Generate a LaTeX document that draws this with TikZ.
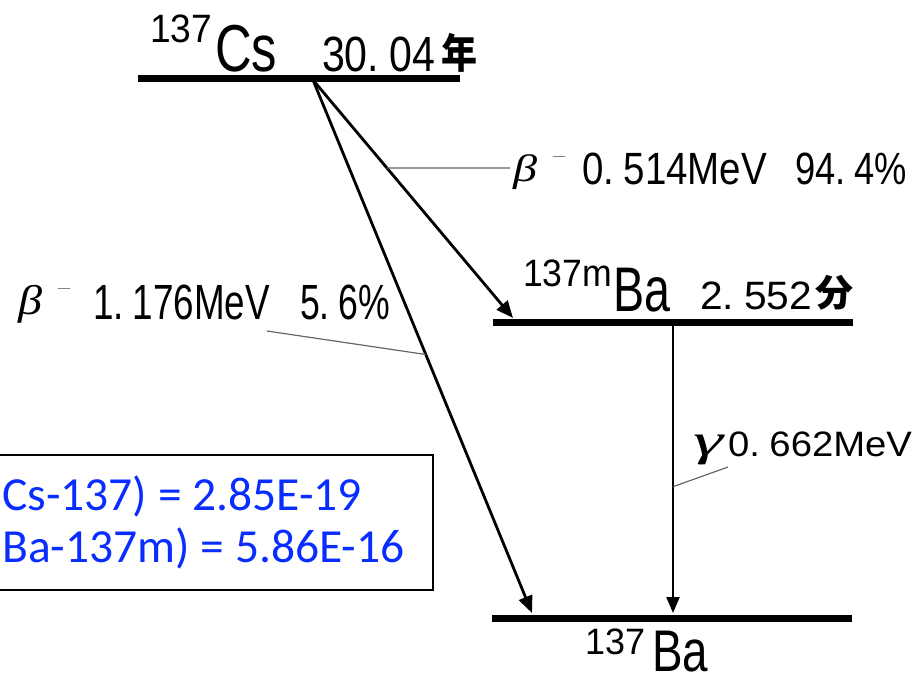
\documentclass[tikz,border=0pt]{standalone}
\usepackage{fontspec}
\usepackage{graphicx}
\usetikzlibrary{arrows.meta,calc}
\newfontfamily\gothic{Liberation Sans}
\newfontfamily\grk{Liberation Serif}
\newfontfamily\cjk{Noto Sans CJK JP}
\newfontfamily\calib{Carlito}
\definecolor{txtblue}{RGB}{10,45,255}
\newcommand\fitt[3]{\resizebox*{#1pt}{#2pt}{\gothic #3}}
\newcommand\fitg[3]{\resizebox*{#1pt}{#2pt}{\grk\itshape #3}}
\newcommand\fitc[3]{\resizebox*{#1pt}{#2pt}{\cjk\bfseries #3}}
\tikzset{
  lbl/.style={anchor=south west, inner sep=0pt, outer sep=0pt},
  level/.style={line width=7pt},
  decay/.style={line width=2.8pt, -{Triangle[length=17pt,width=14pt]}},
  gdecay/.style={line width=2.2pt, -{Triangle[length=16pt,width=13pt]}},
  leader/.style={line width=1.2pt, draw=black!60},
  box/.style={line width=1.5pt, draw=black},
  boxtxt/.style={anchor=base west, inner sep=0pt, text=txtblue, font=\calib\fontsize{47.5}{50}\selectfont},
}
\begin{document}
\begin{tikzpicture}[x=1pt,y=-1pt]
\useasboundingbox (0,0) rectangle (917,683);
% levels
\coordinate (csL) at (138,78);  \coordinate (csR) at (460,78);
\coordinate (bmL) at (493,322); \coordinate (bmR) at (853,322);
\coordinate (baL) at (492,618); \coordinate (baR) at (852,618);
\draw[level] (csL) -- (csR);
\draw[level] (bmL) -- (bmR);
\draw[level] (baL) -- (baR);
% level labels
\node[lbl] (csA) at (150,43) {\fitt{62}{28}{137}};
\node[lbl] (csE) at (215,72) {\fitt{62}{47}{Cs}};
\node[lbl] (csT) at (322,72) {\fitt{113}{35}{30.\kern.25em04}};
\node[lbl] (csU) at (441,72) {\fitc{36}{39}{年}};
\node[lbl] (bmA) at (523,287) {\fitt{89}{27}{137m}};
\node[lbl] (bmE) at (613,312) {\fitt{57}{44}{Ba}};
\node[lbl] (bmT) at (700,310) {\fitt{112}{28}{2.\kern.25em552}};
\node[lbl] (bmU) at (815,310) {\fitc{38}{35}{分}};
\node[lbl] (baA) at (585,655) {\fitt{60}{26}{137}};
\node[lbl] (baE) at (652,672) {\fitt{56}{41}{Ba}};
% decay points
\coordinate (src) at (313,80);
\coordinate (bmTip) at (513,318);
\coordinate (baTip1) at (532,613);
\coordinate (gTop) at (673,326);
\coordinate (baTip2) at (673,613);
\draw[decay] (src) -- (bmTip);
\draw[decay] (src) -- (baTip1);
\draw[gdecay] (gTop) -- (baTip2);
% beta1 label
\node[lbl] (b1g) at (513,190) {\fitg{24}{35}{β}};
\node[inner sep=0pt] (b1m) at (559,158) {\fitt{15}{2.5}{−}};
\node[lbl] (b1e) at (582,185) {\fitt{185}{32}{0.\kern.25em514MeV}};
\node[lbl] (b1p) at (795,185) {\fitt{112}{32}{94.\kern.25em4\%}};
\coordinate (b1lead) at (510,168);
\draw[leader] ($(src)!0.37!(bmTip)$) -- (b1lead);
% beta2 label
\node[lbl] (b2g) at (18,323) {\fitg{24}{38}{β}};
\node[inner sep=0pt] (b2m) at (64,290) {\fitt{15}{2.5}{−}};
\node[lbl] (b2e) at (93,320) {\fitt{177}{35}{1.\kern.25em176MeV}};
\node[lbl] (b2p) at (300,320) {\fitt{90}{35}{5.\kern.25em6\%}};
\coordinate (b2lead) at (267,331);
\draw[leader] ($(src)!0.515!(baTip1)$) -- (b2lead);
% gamma label
\node[lbl] (gg) at (693,465) {\fitg{30}{30}{γ}};
\node[lbl] (ge) at (728,457) {\fitt{184}{25}{0.\kern.25em662MeV}};
\coordinate (glead) at (728,467);
\draw[leader] ($(gTop)!0.56!(baTip2)$) -- (glead);
% box
\draw[box] (-5,455) rectangle (433,590);
\node[boxtxt] (l1) at (2,510) {Cs-137) = 2.85E-19};
\node[boxtxt] (l2) at (2,562) {Ba-137m) = 5.86E-16};
\end{tikzpicture}
\end{document}
